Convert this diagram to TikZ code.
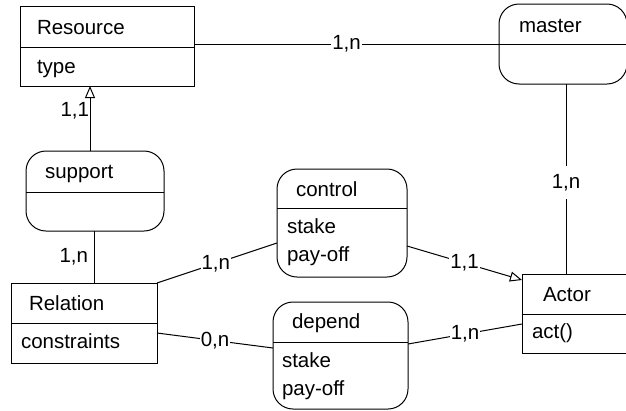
\documentclass[tikz,border=0pt]{standalone}
\usepackage{fontspec}
\setmainfont{Liberation Sans}
\usetikzlibrary{arrows.meta,calc}
\begin{document}
\begin{tikzpicture}[x=1pt,y=-1pt,
  every node/.style={font=\fontsize{20.5}{24}\selectfont, inner sep=0pt, outer sep=0pt},
  cls/.style={draw, line width=1pt, rectangle, minimum width=#1},
  relbox/.style={draw, line width=1pt, rectangle, rounded corners=20pt, minimum width=#1},
  conn/.style={line width=1pt},
  lab/.style={fill=white, inner xsep=1pt, inner ysep=2pt},
  txt/.style={anchor=base west},
  opentip/.style={-{Triangle[open, length=12pt, width=10pt, line width=1pt]}}
]
\useasboundingbox (0,0) rectangle (626,410);

% boxes
\node[cls=174pt, minimum height=80pt] (resource) at (107,46) {};
\node[relbox=128pt, minimum height=80pt] (master) at (563,44) {};
\node[relbox=138pt, minimum height=80pt] (support) at (95,191) {};
\node[cls=146pt, minimum height=80pt] (relation) at (84,323) {};
\node[relbox=130pt, minimum height=108pt] (control) at (342,223) {};
\node[relbox=135pt, minimum height=107pt] (depend) at (340.5,355.5) {};
\node[cls=105pt, minimum height=79pt] (actor) at (574.5,313.5) {};

% dividers
\draw[conn] ($(resource.north west)+(0,41)$) -- ($(resource.north east)+(0,41)$);
\draw[conn] ($(master.north west)+(0,40)$) -- ($(master.north east)+(0,40)$);
\draw[conn] ($(support.north west)+(0,41)$) -- ($(support.north east)+(0,41)$);
\draw[conn] ($(relation.north west)+(0,40)$) -- ($(relation.north east)+(0,40)$);
\draw[conn] ($(control.north west)+(0,39)$) -- ($(control.north east)+(0,39)$);
\draw[conn] ($(depend.north west)+(0,40)$) -- ($(depend.north east)+(0,40)$);
\draw[conn] ($(actor.north west)+(0,40)$) -- ($(actor.north east)+(0,40)$);

% texts
\node[txt] (tResource) at (37,34) {Resource};
\node[txt] (tType) at (37,73) {type};
\node[txt] (tMaster) at (519,32) {master};
\node[txt] (tSupport) at (45,178) {support};
\node[txt] (tRelation) at (29,310) {Relation};
\node[txt] (tConstraints) at (21,348) {constraints};
\node[txt] (tControl) at (296,196) {control};
\node[txt] (tStakeC) at (287,233) {stake};
\node[txt] (tPayC) at (287,261) {pay-off};
\node[txt] (tDepend) at (292,328) {depend};
\node[txt] (tStakeD) at (282,367) {stake};
\node[txt] (tPayD) at (282,395) {pay-off};
\node[txt] (tActor) at (543,301) {Actor};
\node[txt] (tAct) at (532,338) {act()};

% connectors
\draw[conn] (resource.east |- master.west) -- (master.west)
  node[lab, pos=0.5] (l1) {1,n};

\draw[conn] ($(master.south)+(3,0)$) coordinate (m1) -- (m1 |- actor.north)
  node[lab, inner ysep=8pt, pos=0.52] (l2) {1,n};

\draw[conn, opentip] ($(support.north)+(-5,0)$) coordinate (s1) -- (s1 |- resource.south)
  node[pos=0.62, anchor=east, xshift=-1pt] (l3) {1,1};

\draw[conn] ($(support.south)+(-1,0)$) coordinate (s2) -- (s2 |- relation.north)
  node[pos=0.5, anchor=east, xshift=-6pt] (l4) {1,n};

\draw[conn] (relation.north east) -- ($(control.west)+(0,20)$)
  node[lab, pos=0.49] (l5) {1,n};

\draw[conn] ($(relation.east)+(0,10)$) -- ($(depend.west)+(0,-7.5)$)
  node[lab, pos=0.5] (l6) {0,n};

\draw[conn, opentip] ($(control.east)+(0,23)$) -- ($(actor.north west)+(0,6)$)
  node[lab, pos=0.5] (l7) {1,1};

\draw[conn] ($(depend.east)+(0,-11.5)$) -- ($(actor.west)+(0,10.5)$)
  node[lab, pos=0.5] (l8) {1,n};
\end{tikzpicture}
\end{document}
